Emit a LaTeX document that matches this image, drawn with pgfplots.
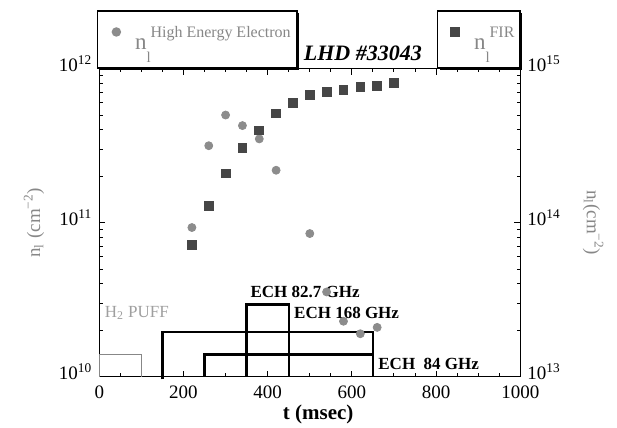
\documentclass[border=0pt]{standalone}
\usepackage{pgfplots}
\pgfplotsset{compat=1.18}
\usepackage{fontspec}
\setmainfont{Liberation Serif}
\usetikzlibrary{shadows}
\definecolor{circ}{RGB}{140,140,140}
\definecolor{sq}{RGB}{70,70,70}
\definecolor{lab}{RGB}{135,135,135}
\newcommand{\nsym}[1]{{\fontsize{11.5}{11}\selectfont n}\rlap{\raisebox{-6.5pt}{\fontsize{7.5}{7.5}\selectfont l}}\hspace{2pt}\raisebox{6.3pt}{\fontsize{8}{8}\selectfont #1}}
\pgfplotsset{
  mybox/.style={
    at={(0,0)}, anchor=south west,
    scale only axis, width=210.5pt, height=154pt,
    xmin=0, xmax=1000,
    /pgf/number format/assume math mode=true,
    /pgf/number format/1000 sep={},
    tick label style={font=\fontsize{9.5}{11}\selectfont},
    yticklabel style={yshift=2.5pt},
    xticklabel style={yshift=-1pt},
    major tick length=3pt, minor tick length=1.8pt,
    tick style={black, line width=0.5pt},
    axis line style={line width=0.6pt},
  },
  mylegend/.style={
    legend style={draw=black, line width=0.7pt, fill=white,
      inner xsep=0pt, inner ysep=0pt, column sep=0pt,
      nodes={inner sep=0pt, text=lab, text depth=9pt},
      cells={anchor=base west},
      drop shadow={shadow xshift=1pt, shadow yshift=-1.2pt, fill=black, opacity=1},
      at={(rel axis cs:#1,1)}, anchor=south west},
  },
}
\begin{document}
\begin{tikzpicture}
\path[use as bounding box] (-49.65pt,-25.65pt) rectangle (258.85pt,188.35pt);
\begin{axis}[
  mybox, mylegend=-0.0055,
  ymode=log, ymin=1e10, ymax=1e12,
  xtick={0,200,...,1000}, minor x tick num=3,
  ytick={1e10,1e11,1e12},
  yticklabels={10\textsuperscript{10},10\textsuperscript{11},10\textsuperscript{12}},
  ytick pos=left, xtick pos=both,
  xlabel={\textbf{t (msec)}},
  xlabel style={font=\fontsize{10.5}{12}\selectfont, at={(axis description cs:0.52,0)}, anchor=center, yshift=-19pt},
  ylabel={n\textsubscript{l} (cm\textsuperscript{−2})},
  ylabel style={font=\fontsize{9.5}{11}\selectfont, text=lab, at={(axis description cs:-0.155,0.5)}, anchor=center},
  clip=false,
]
\addplot[only marks, mark=*, mark size=2pt, circ,
  legend image code/.code={\draw[##1] plot coordinates {(9pt,9pt)}; \path (0pt,0pt) (18pt,0pt);}]
  coordinates {
  (220,9.3e10) (260,3.16e11) (300,5.0e11) (340,4.27e11) (380,3.5e11) (420,2.19e11)
  (500,8.5e10) (540,3.55e10) (580,2.29e10) (620,1.9e10) (660,2.09e10)};
\addlegendentry{\rule{0pt}{19.5pt}\makebox[81pt][l]{\nsym{High Energy Electron}}}
% H2 puff
\addplot[forget plot, draw=lab, line width=0.6pt] coordinates {(0,1e10) (0,1.4e10) (100,1.4e10) (100,1e10)};
% ECH boxes
\addplot[forget plot, black, line width=1.2pt] coordinates {(150,0.96e10) (150,1.95e10) (650,1.95e10) (650,1e10)};
\addplot[forget plot, black, line width=1.2pt] coordinates {(250,1e10) (250,1.39e10) (650,1.39e10)};
\addplot[forget plot, black, line width=1.2pt] coordinates {(350,1e10) (350,2.94e10) (450,2.94e10) (450,1e10)};
\node[anchor=center, font=\bfseries\fontsize{8.5}{10}\selectfont] at (axis cs:489,3.55e10) {ECH 82.7 GHz};
\node[anchor=west, font=\bfseries\fontsize{8.5}{10}\selectfont, inner sep=0pt] at (axis cs:462,2.6e10) {ECH 168 GHz};
\node[anchor=west, font=\bfseries\fontsize{8.5}{10}\selectfont, inner sep=0pt] at (axis cs:662,1.21e10) {ECH\ \ 84 GHz};
\node[anchor=west, font=\fontsize{8.5}{10}\selectfont, text=lab!80, inner sep=0pt] at (axis cs:12,2.6e10) {H\textsubscript{2} PUFF};
\node[anchor=center, font=\bfseries\itshape\fontsize{11}{13}\selectfont] at (rel axis cs:0.626,1) [yshift=7.5pt] {LHD \#33043};
\end{axis}
\begin{axis}[
  mybox, mylegend=0.802,
  ymode=log, ymin=1e13, ymax=1e15,
  axis y line*=right, axis x line=none,
  ytick={1e13,1e14,1e15},
  yticklabels={10\textsuperscript{13},10\textsuperscript{14},10\textsuperscript{15}},
  ylabel={n\textsubscript{l}(cm\textsuperscript{−2})},
  ylabel style={font=\fontsize{9.5}{11}\selectfont, text=lab, at={(axis description cs:1.173,0.5)}, anchor=center, rotate=180},
]
\addplot[only marks, mark=square*, mark size=2.2pt, sq,
  legend image code/.code={\draw[##1] plot coordinates {(8.5pt,9pt)}; \path (0pt,0pt) (17.5pt,0pt);}]
  coordinates {
  (220,7.2e13) (260,1.29e14) (300,2.09e14) (340,3.05e14) (380,3.98e14) (420,5.13e14)
  (460,6.03e14) (500,6.76e14) (540,7.08e14) (580,7.24e14) (620,7.59e14) (660,7.76e14) (700,8.04e14)};
\addlegendentry{\rule{0pt}{19.5pt}\makebox[23pt][l]{\nsym{FIR}}}
\end{axis}
\end{tikzpicture}
\end{document}
